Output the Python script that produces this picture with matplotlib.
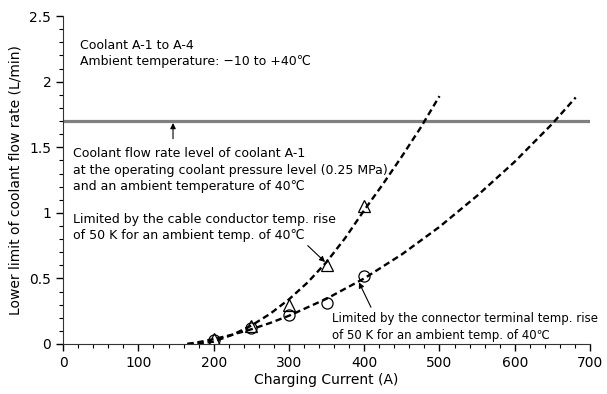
import numpy as np
import matplotlib
matplotlib.use("Agg")
import matplotlib.pyplot as plt
from matplotlib.ticker import MultipleLocator, FormatStrFormatter

# measured points
current_pts = [200, 250, 300, 350, 400]
cable_pts = [0.04, 0.14, 0.30, 0.60, 1.05]
connector_pts = [0.03, 0.12, 0.22, 0.31, 0.52]

# dashed trend curves
cable_x = [165, 180, 200, 225, 250, 275, 300, 325, 350, 375, 400, 425, 450, 475, 500]
cable_y = [0.0, 0.004, 0.018, 0.07, 0.14, 0.23, 0.34, 0.47, 0.625, 0.81, 1.02, 1.22, 1.43, 1.65, 1.89]
connector_x = [165, 180, 200, 225, 250, 275, 300, 350, 400, 450, 500, 550, 600, 650, 681]
connector_y = [0.0, 0.014, 0.037, 0.071, 0.112, 0.16, 0.215, 0.345, 0.50, 0.683, 0.893, 1.13, 1.39, 1.68, 1.88]

# coolant A-1 flow rate level
level_x = [0, 697]
level_y = [1.7, 1.7]

fig = plt.figure(figsize=(6.07, 3.94), dpi=100)
ax = fig.add_axes([0.104, 0.127, 0.868, 0.832])

ax.plot(level_x, level_y, color="#808080", linewidth=2.3, zorder=2)
ax.plot(cable_x, cable_y, color="black", linestyle=(0, (2.7, 1.6)), linewidth=1.7)
ax.plot(connector_x, connector_y, color="black", linestyle=(0, (2.7, 1.6)), linewidth=1.7)
ax.plot(current_pts, cable_pts, "^", markersize=8, markerfacecolor="none",
        markeredgecolor="black", markeredgewidth=0.9)
ax.plot(current_pts, connector_pts, "o", markersize=8, markerfacecolor="none",
        markeredgecolor="black", markeredgewidth=0.9)

ax.set_xlim(0, 700)
ax.set_ylim(0, 2.5)
ax.xaxis.set_major_locator(MultipleLocator(100))
ax.xaxis.set_minor_locator(MultipleLocator(20))
ax.yaxis.set_major_locator(MultipleLocator(0.5))
ax.yaxis.set_minor_locator(MultipleLocator(0.1))
ax.yaxis.set_major_formatter(FormatStrFormatter("%g"))
ax.tick_params(which="major", direction="out", length=5, width=1, labelsize=10)
ax.tick_params(which="minor", direction="out", length=3, width=0.8)
for s in ["top", "right"]:
    ax.spines[s].set_visible(False)
ax.spines["left"].set_color("#333333")
ax.spines["bottom"].set_color("#333333")

ax.set_xlabel("Charging Current (A)", fontsize=10, labelpad=2)
ax.set_ylabel("Lower limit of coolant flow rate (L/min)", fontsize=10, labelpad=5)

fs = 9
ax.text(22, 2.216, "Coolant A-1 to A-4\nAmbient temperature: \u221210 to +40\u2103",
        fontsize=fs, va="center", ha="left", linespacing=1.35)

arrow = dict(arrowstyle="-|>", color="black", lw=0.8, mutation_scale=8, shrinkA=0, shrinkB=0)
ax.annotate("", xy=(146, 1.685), xytext=(146, 1.565), arrowprops=arrow)
ax.text(13, 1.325, "Coolant flow rate level of coolant A-1\n"
        "at the operating coolant pressure level (0.25 MPa)\n"
        "and an ambient temperature of 40\u2103",
        fontsize=fs, va="center", ha="left", linespacing=1.35)

ax.text(13, 0.887, "Limited by the cable conductor temp. rise\n"
        "of 50 K for an ambient temp. of 40\u2103",
        fontsize=fs, va="center", ha="left", linespacing=1.35)
ax.annotate("", xy=(348, 0.625), xytext=(325, 0.75), arrowprops=arrow)

ax.text(357, 0.13, "Limited by the connector terminal temp. rise\n"
        "of 50 K for an ambient temp. of 40\u2103",
        fontsize=8.5, va="center", ha="left", linespacing=1.42)
ax.annotate("", xy=(393, 0.47), xytext=(409, 0.28), arrowprops=arrow)

fig.savefig("out.png", dpi=100)
